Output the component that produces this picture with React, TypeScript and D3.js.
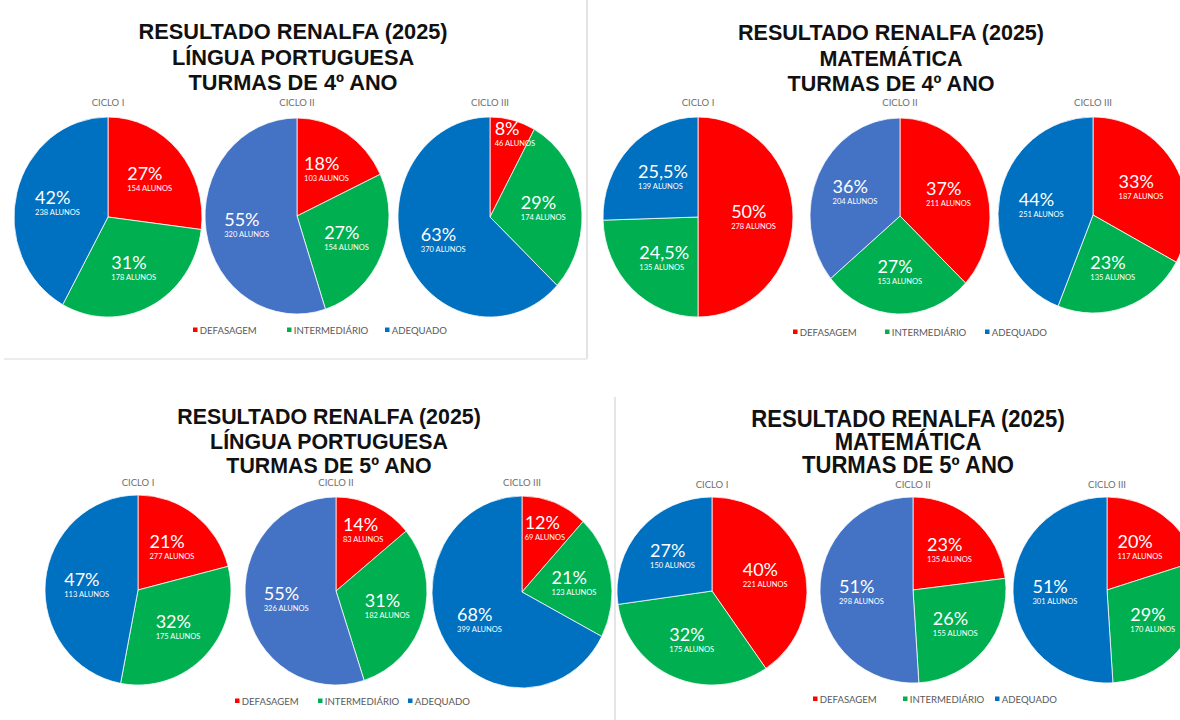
import * as d3 from 'd3';

// categorias e ciclos
const categories = ['DEFASAGEM', 'INTERMEDIÁRIO', 'ADEQUADO'];
const cycles = ['CICLO I', 'CICLO II', 'CICLO III'];

// títulos
const titleLp4 = ['RESULTADO RENALFA (2025)', 'LÍNGUA PORTUGUESA', 'TURMAS DE 4º ANO'];
const titleMat4 = ['RESULTADO RENALFA (2025)', 'MATEMÁTICA', 'TURMAS DE 4º ANO'];
const titleLp5 = ['RESULTADO RENALFA (2025)', 'LÍNGUA PORTUGUESA', 'TURMAS DE 5º ANO'];
const titleMat5 = ['RESULTADO RENALFA (2025)', 'MATEMÁTICA', 'TURMAS DE 5º ANO'];

// percentuais por ciclo: [defasagem, intermediário, adequado]
const pctLp4 = [[27, 31, 42], [18, 27, 55], [8, 29, 63]];
const pctMat4 = [[50, 24.5, 25.5], [37, 27, 36], [33, 23, 44]];
const pctLp5 = [[21, 32, 47], [14, 31, 55], [12, 21, 68]];
const pctMat5 = [[40, 32, 27], [23, 26, 51], [20, 29, 51]];

// número de alunos (como aparece nos rótulos)
const alunosLp4 = [[154, 178, 238], [103, 154, 320], [46, 174, 370]];
const alunosMat4 = [[278, 135, 139], [211, 153, 204], [187, 135, 251]];
const alunosLp5 = [[277, 175, 113], [83, 182, 326], [69, 123, 399]];
const alunosMat5 = [[221, 175, 150], [135, 155, 298], [117, 170, 301]];

const RED = '#ff0000';
const GREEN = '#00b050';
const BLUE = '#0070c0';
const BLUE_2 = '#4472c4';

const color = d3.scaleOrdinal<string, string>().domain(categories).range([RED, GREEN, BLUE]);

// layout de cada painel (posições só)
const panels = [
  {
    title: titleLp4, pct: pctLp4, alunos: alunosLp4,
    titleX: 293, titleY: [39, 65, 90], titleSize: 22, titleSx: 0.99,
    pies: [[108, 217, 94, 100], [297, 216, 92, 98], [490, 217, 92, 100]],
    cycleY: 106, legendY: 330, legendX: [193, 287, 385],
  },
  {
    title: titleMat4, pct: pctMat4, alunos: alunosMat4,
    titleX: 891, titleY: [40, 66, 91], titleSize: 22, titleSx: 0.98,
    pies: [[698, 217, 95, 100], [900, 216, 90, 98], [1093, 215, 95, 98]],
    cycleY: 106, legendY: 332, legendX: [793, 885, 985],
  },
  {
    title: titleLp5, pct: pctLp5, alunos: alunosLp5,
    titleX: 329, titleY: [424, 449, 473], titleSize: 23, titleSx: 0.93,
    pies: [[138, 590, 93, 95], [336, 591, 91, 94], [522, 592, 90, 96]],
    cycleY: 486, legendY: 701, legendX: [235, 318, 408],
  },
  {
    title: titleMat5, pct: pctMat5, alunos: alunosMat5,
    titleX: 908, titleY: [427, 450, 473], titleSize: 23, titleSx: 0.96,
    pies: [[712, 591, 95, 94], [913, 590, 93, 93], [1107, 590, 94, 93]],
    cycleY: 488, legendY: 699, legendX: [813, 903, 995],
  },
];

const R = 100;
const pie = d3.pie<number>().sort(null).value(d => d);
const arc = d3.arc<d3.PieArcDatum<number>>().innerRadius(0).outerRadius(R);

// fatias pequenas levam o rótulo mais para fora, como no Excel
const labelFactor = (a: d3.PieArcDatum<number>) => {
  const frac = (a.endAngle - a.startAngle) / (2 * Math.PI);
  if (frac < 0.1) return 0.86;
  if (frac < 0.15) return 0.72;
  return 0.57;
};
const labelPos = (a: d3.PieArcDatum<number>) => {
  const r = R * labelFactor(a);
  return d3.arc<d3.PieArcDatum<number>>().innerRadius(r).outerRadius(r).centroid(a);
};

const fmtPct = (v: number) => String(v).replace('.', ',') + '%';

function PieChart({ values, alunos, cx, cy, rx, ry, cycleIdx }: any) {
  const arcs = pie(values);
  const sx = rx / R;
  const sy = ry / R;
  return (
    <g>
      <g transform={`translate(${cx},${cy}) scale(${sx},${sy})`}>
        {arcs.map((a, i) => (
          <path
            key={i}
            d={arc(a) || ''}
            fill={i === 2 && cycleIdx === 1 ? BLUE_2 : color(categories[i])}
            stroke="#ffffff"
            strokeWidth={0.8}
          />
        ))}
      </g>
      {arcs.map((a, i) => {
        const [lx, ly] = labelPos(a);
        const half = values[i] < 10 ? 15 : 21;
        const x0 = cx + lx * sx - half;
        const y0 = cy + ly * sy;
        return (
          <g key={'l' + i} fill="#ffffff" fontFamily="Lato, 'Open Sans', sans-serif">
            <text x={x0} y={y0 + 1} fontSize={18}>{fmtPct(values[i])}</text>
            <text x={x0} y={y0 + 12} fontSize={7.5}>{alunos[i]} ALUNOS</text>
          </g>
        );
      })}
    </g>
  );
}

function Panel({ p }: any) {
  return (
    <g>
      <g transform={`translate(${p.titleX},0) scale(${p.titleSx},1)`}>
        {p.title.map((t: string, i: number) => (
          <text
            key={i}
            x={0}
            y={p.titleY[i]}
            textAnchor="middle"
            fontFamily="'Liberation Sans', Arial, sans-serif"
            fontWeight="bold"
            fontSize={p.titleSize}
            fill="#111"
          >
            {t}
          </text>
        ))}
      </g>
      {p.pies.map((pp: number[], j: number) => (
        <g key={j}>
          <text
            x={pp[0]}
            y={p.cycleY}
            textAnchor="middle"
            fontFamily="Lato, sans-serif"
            fontSize={9.5}
            fill="#6e6e6e"
          >
            {cycles[j]}
          </text>
          <PieChart
            values={p.pct[j]}
            alunos={p.alunos[j]}
            cx={pp[0]}
            cy={pp[1]}
            rx={pp[2]}
            ry={pp[3]}
            cycleIdx={j}
          />
        </g>
      ))}
      {categories.map((c, k) => (
        <g key={c} transform={`translate(${p.legendX[k]},${p.legendY})`}>
          <rect x={0} y={-2.5} width={4.5} height={4.5} fill={k === 2 ? BLUE : color(c)} />
          <text
            x={7}
            y={3.5}
            fontFamily="Lato, sans-serif"
            fontSize={10}
            fill="#595959"
            transform="scale(0.96,1)"
          >
            {c}
          </text>
        </g>
      ))}
    </g>
  );
}

export default function App() {
  return (
    <svg
      width={1180}
      height={720}
      style={{ position: 'absolute', left: 0, top: 0, background: '#ffffff' }}
    >
      <rect width={1180} height={720} fill="#ffffff" />
      {/* bordas dos recortes */}
      <line x1={587} y1={0} x2={587} y2={359} stroke="#e3e3e3" strokeWidth={2} />
      <line x1={4} y1={359} x2={587} y2={359} stroke="#ececec" strokeWidth={2} />
      <line x1={615} y1={397} x2={615} y2={720} stroke="#dcdcdc" strokeWidth={1.5} />
      {panels.map((p, i) => (
        <Panel key={i} p={p} />
      ))}
    </svg>
  );
}
